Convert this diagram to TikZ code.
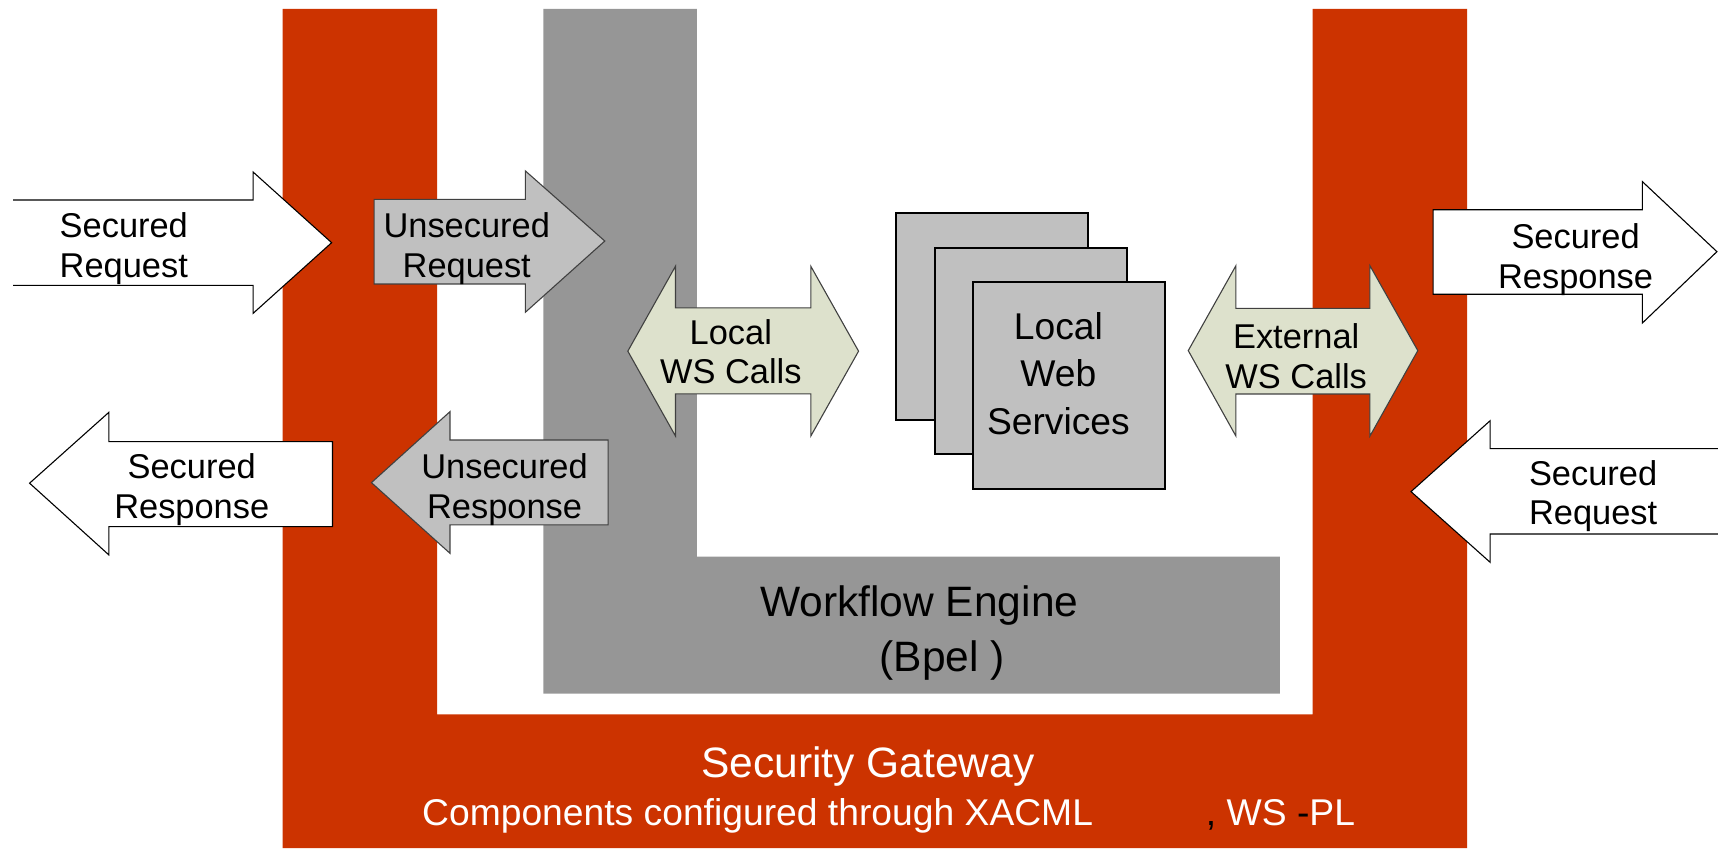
\documentclass[tikz,border=0pt]{standalone}
\usepackage{fontspec}
\setmainfont{Liberation Sans}
\definecolor{gwred}{RGB}{204,51,0}
\definecolor{wfgray}{RGB}{150,150,150}
\definecolor{ltgray}{RGB}{192,192,192}
\definecolor{palegreen}{RGB}{221,225,204}
\begin{document}
\begin{tikzpicture}[x=0.5pt,y=-0.5pt,
  secarrow/.style={draw=black, line width=0.5pt, fill=white},
  unsecarrow/.style={draw=black!75, line width=0.5pt, fill=ltgray},
  wsarrow/.style={draw=black!75, line width=0.5pt, fill=palegreen},
  wsbox/.style={draw=black, line width=1pt, fill=ltgray},
  lbl/.style={align=center, font=\fontsize{15.7}{18}\selectfont, inner sep=0pt},
  midlbl/.style={align=center, font=\fontsize{17}{21.5}\selectfont, inner sep=0pt},
  biglbl/.style={align=center, font=\fontsize{19.4}{25}\selectfont, inner sep=0pt}]
\useasboundingbox (0,0) rectangle (1568,774);
% Security gateway (red U)
\fill[gwred] (258,8) -- (399,8) -- (399,652) -- (1198,652) -- (1198,8) -- (1339,8)
  -- (1339,774) -- (258,774) -- cycle;
% Workflow engine (gray L)
\fill[wfgray] (496,8) -- (636,8) -- (636,508) -- (1168,508) -- (1168,633) -- (496,633) -- cycle;
% Left secured request (open left end)
\fill[white] (12,182.5) -- (231,182.5) -- (231,157) -- (302.7,221.5) -- (231,286) -- (231,260.4) -- (12,260.4) -- cycle;
\draw[line width=0.5pt] (12,182.5) -- (231,182.5) -- (231,157) -- (302.7,221.5) -- (231,286) -- (231,260.4) -- (12,260.4);
% Unsecured request
\draw[unsecarrow] (341.5,182) -- (479.5,182) -- (479.5,156) -- (552,220) -- (479.5,285) -- (479.5,259.2) -- (341.5,259.2) -- cycle;
% Left secured response
\draw[secarrow] (27,441) -- (99.4,376.3) -- (99.4,403) -- (303.5,403) -- (303.5,480.6) -- (99.4,480.6) -- (99.4,506.5) -- cycle;
% Unsecured response
\draw[unsecarrow] (339,440.5) -- (410.7,375.7) -- (410.7,401.6) -- (555,401.6) -- (555,479) -- (410.7,479) -- (410.7,505) -- cycle;
% Local WS calls
\draw[wsarrow] (573,320.5) -- (616.5,243) -- (616.5,281) -- (740,281) -- (740,243) -- (783.6,320.5)
  -- (740,398) -- (740,359.5) -- (616.5,359.5) -- (616.5,398) -- cycle;
% External WS calls
\draw[wsarrow] (1084.5,320) -- (1128,242.5) -- (1128,281.4) -- (1250.3,281.4) -- (1250.3,242.5) -- (1294,320)
  -- (1250.3,398) -- (1250.3,359.6) -- (1128,359.6) -- (1128,398) -- cycle;
% Right secured response
\draw[secarrow] (1308,191.4) -- (1499,191.4) -- (1499,165.8) -- (1567,229.7) -- (1499,294.8) -- (1499,268.6) -- (1308,268.6) -- cycle;
% Right secured request
\draw[secarrow] (1580,409.5) -- (1360,409.5) -- (1360,384) -- (1287.8,448.7) -- (1360,513.2) -- (1360,487.4) -- (1580,487.4);
% Local web services stack
\draw[wsbox] (817.6,194.7) rectangle (993,383.3);
\draw[wsbox] (853,226.3) rectangle (1028.6,414.4);
\draw[wsbox] (888,257.4) rectangle (1063,446);
% Labels
\node[lbl] (secreqL) at (113,227) {Secured\\Request};
\node[lbl] (unsecreq) at (426,227) {Unsecured\\Request};
\node[lbl] (secrespL) at (175,447) {Secured\\Response};
\node[lbl] (unsecresp) at (460.5,447) {Unsecured\\Response};
\node[lbl] (localws) at (667,321) {Local\\WS Calls};
\node[lbl] (extws) at (1183,325) {External\\WS Calls};
\node[lbl] (secrespR) at (1438,237) {Secured\\Response};
\node[lbl] (secreqR) at (1454,453) {Secured\\Request};
\node[midlbl] (lws) at (966,341) {Local\\Web\\Services};
\node[biglbl] (wf) at (839,553) {Workflow Engine};
\node[biglbl] (bpel) at (860,603) {(Bpel )};
\node[biglbl, text=white] (sg) at (792,700) {Security Gateway};
\node[midlbl, anchor=base] (comp) at (811,753) {{\color{white}Components configured through XACML}\hspace{51.5pt},\ {\color{white}WS}\ -{\color{white}PL}};
\end{tikzpicture}
\end{document}
